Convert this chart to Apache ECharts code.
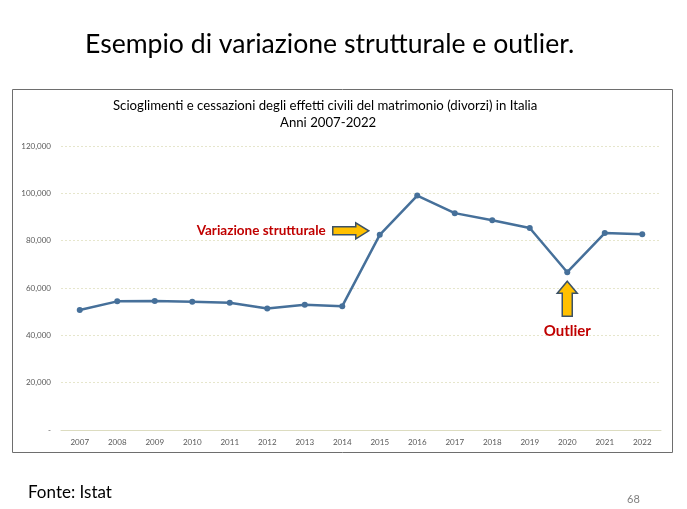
<!DOCTYPE html>
<html style="height: 100%">

<head>
    <meta charset="utf-8">
</head>

<body style="height: 100%; margin: 0; background: #ffffff">
    <div id="container" style="width: 687px; height: 509px"></div>
    <script src="https://cdn.jsdelivr.net/npm/echarts@6/dist/echarts.min.js"></script>
    <script type="text/javascript">
        var years = ['2007', '2008', '2009', '2010', '2011', '2012', '2013', '2014',
            '2015', '2016', '2017', '2018', '2019', '2020', '2021', '2022'];
        var divorzi = [50669, 54351, 54456, 54160, 53806, 51319, 52943, 52335,
            82469, 99071, 91629, 88600, 85349, 66662, 83192, 82700];
        var yTicks = [0, 20000, 40000, 60000, 80000, 100000, 120000];

        var dom = document.getElementById("container");
        var myChart = echarts.init(dom);
        var font = 'Lato, "Open Sans", sans-serif';

        var option = {
            backgroundColor: '#ffffff',
            animation: false,
            title: [
                {
                    text: 'Esempio di variazione strutturale e outlier.',
                    left: 80, top: 26,
                    textStyle: { fontFamily: font, fontSize: 26.6, fontWeight: 'normal', color: '#000000' }
                },
                {
                    text: 'Scioglimenti e cessazioni degli effetti civili del matrimonio (divorzi) in Italia',
                    left: 108, top: 94,
                    textStyle: { fontFamily: font, fontSize: 13.2, fontWeight: 'normal', color: '#000000' }
                },
                {
                    text: 'Anni 2007-2022',
                    left: 275, top: 111,
                    textStyle: { fontFamily: font, fontSize: 13.2, fontWeight: 'normal', color: '#000000' }
                },
                {
                    text: 'Fonte: Istat',
                    left: 23, top: 479,
                    textStyle: { fontFamily: font, fontSize: 17, fontWeight: 'normal', color: '#000000' }
                },
                {
                    text: '68',
                    left: 622, top: 489,
                    textStyle: { fontFamily: font, fontSize: 11, fontWeight: 'normal', color: '#7f7f7f' }
                }
            ],
            grid: { left: 61, right: 26, top: 146, bottom: 79 },
            xAxis: {
                type: 'category',
                data: years,
                boundaryGap: true,
                axisLine: { lineStyle: { color: '#dcdcc0', width: 1 } },
                axisTick: { show: false },
                axisLabel: { color: '#595959', fontSize: 8, fontFamily: font, margin: 8 }
            },
            yAxis: {
                type: 'value',
                min: yTicks[0],
                max: yTicks[yTicks.length - 1],
                interval: yTicks[1] - yTicks[0],
                axisLine: { show: false },
                axisTick: { show: false },
                splitLine: { lineStyle: { color: '#e6e6cc', type: [2, 2], width: 1 } },
                axisLabel: {
                    color: '#595959', fontSize: 8, fontFamily: font, margin: 10,
                    formatter: function (v) {
                        return v === 0 ? '-' : v.toLocaleString('en-US');
                    }
                }
            },
            series: [
                {
                    name: 'Divorzi',
                    type: 'line',
                    data: divorzi,
                    symbol: 'circle',
                    symbolSize: 6,
                    lineStyle: { color: '#46709a', width: 2.5 },
                    itemStyle: { color: '#46709a' }
                }
            ]
        };
        myChart.setOption(option, true);

        // annotations placed relative to the data points
        var p15 = myChart.convertToPixel({ seriesIndex: 0 }, ['2015', divorzi[8]]);
        var p20 = myChart.convertToPixel({ seriesIndex: 0 }, ['2020', divorzi[13]]);
        var tipX = p15[0] - 11, cy = p15[1] - 4;
        var upX = p20[0], upY = p20[1] + 9;

        myChart.setOption({
            graphic: [
                {
                    type: 'rect', silent: true,
                    shape: { x: 12.5, y: 89.5, width: 660, height: 363 },
                    style: { fill: 'none', stroke: '#6e6e6e', lineWidth: 1 }
                },
                {
                    type: 'polygon',
                    shape: {
                        points: [
                            [tipX - 36, cy - 4], [tipX - 13, cy - 4], [tipX - 13, cy - 8],
                            [tipX, cy], [tipX - 13, cy + 8], [tipX - 13, cy + 4], [tipX - 36, cy + 4]
                        ]
                    },
                    style: { fill: '#ffc000', stroke: '#3b5166', lineWidth: 1.5 }
                },
                {
                    type: 'text',
                    style: {
                        text: 'Variazione strutturale', x: tipX - 43, y: cy,
                        align: 'right', verticalAlign: 'middle',
                        fill: '#c00000', fontSize: 13.5, fontWeight: 'bold', fontFamily: font
                    }
                },
                {
                    type: 'polygon',
                    shape: {
                        points: [
                            [upX, upY], [upX + 10, upY + 12], [upX + 5, upY + 12], [upX + 5, upY + 35],
                            [upX - 5, upY + 35], [upX - 5, upY + 12], [upX - 10, upY + 12]
                        ]
                    },
                    style: { fill: '#ffc000', stroke: '#3b5166', lineWidth: 1.5 }
                },
                {
                    type: 'text',
                    style: {
                        text: 'Outlier', x: upX, y: upY + 50,
                        align: 'center', verticalAlign: 'middle',
                        fill: '#c00000', fontSize: 15, fontWeight: 'bold', fontFamily: font
                    }
                }
            ]
        });
    </script>
</body>

</html>
